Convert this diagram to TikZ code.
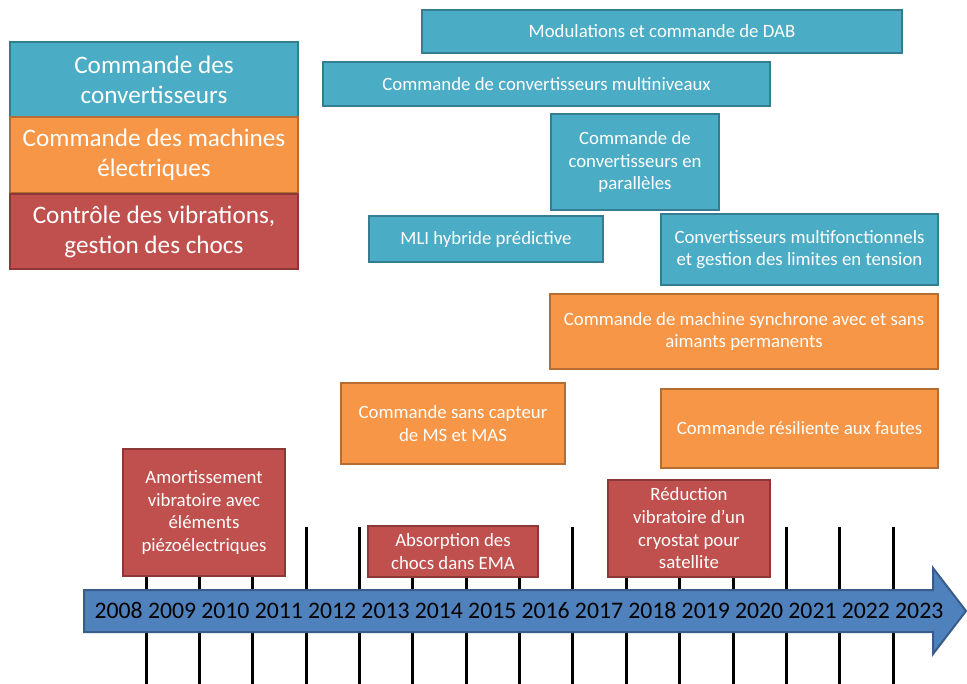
\documentclass[tikz,border=0pt]{standalone}
\usepackage{fontspec}
\setmainfont{Carlito}
\definecolor{cbl}{HTML}{4BACC6}
\definecolor{cblD}{HTML}{357D91}
\definecolor{cor}{HTML}{F79646}
\definecolor{corD}{HTML}{B66D31}
\definecolor{cre}{HTML}{C0504D}
\definecolor{creD}{HTML}{8C3836}
\definecolor{car}{HTML}{4F81BD}
\definecolor{carD}{HTML}{385D8A}
\tikzset{
  basebox/.style={rectangle, draw, line width=1.6pt, inner sep=0pt, align=center, text=white,
     font=\fontsize{14.1}{17}\selectfont},
  bluebox/.style={basebox, fill=cbl, draw=cblD},
  orbox/.style={basebox, fill=cor, draw=corD},
  redbox/.style={basebox, fill=cre, draw=creD},
  legbox/.style={font=\fontsize{18.9}{22.5}\selectfont, minimum width=216pt},
  tick/.style={line width=2.25pt, black},
  yearlbl/.style={font=\fontsize{17.8}{20}\selectfont, text=black, inner sep=0pt,
     text height=11.3pt, text depth=0pt}
}
\begin{document}
\begin{tikzpicture}[x=0.75pt, y=-0.75pt]
\useasboundingbox (0,0) rectangle (967,684);
% ticks
\foreach \k in {0,...,14} {
  \draw[tick] ({146+53.37*\k},527) -- ({146+53.37*\k},684);
}
% legend
\node[bluebox, legbox, minimum height=56.25pt] (leg1) at (154,79.5) {Commande des\\convertisseurs};
\node[orbox, legbox, minimum height=57pt] (leg2) at (154,155) {Commande des machines\\électriques};
\node[redbox, legbox, minimum height=56.25pt] (leg3) at (154,231.5) {Contrôle des vibrations,\\gestion des chocs};
% blue boxes
\node[bluebox, minimum width=360pt, minimum height=32.25pt] (dab) at (662,31.5) {Modulations et commande de DAB};
\node[bluebox, minimum width=335.25pt, minimum height=33pt] (multi) at (546.5,84) {Commande de convertisseurs multiniveaux};
\node[bluebox, minimum width=126pt, minimum height=72pt] (para) at (635,162) {Commande de\\convertisseurs en\\parallèles};
\node[bluebox, minimum width=175.5pt, minimum height=34.5pt] (mli) at (486,239) {MLI hybride prédictive};
\node[bluebox, minimum width=207.75pt, minimum height=53.25pt] (mfonc) at (799.5,249.5) {Convertisseurs multifonctionnels\\et gestion des limites en tension};
% orange boxes
\node[orbox, minimum width=291pt, minimum height=56.25pt] (sync) at (744,331.5) {Commande de machine synchrone avec et sans\\aimants permanents};
\node[orbox, minimum width=168pt, minimum height=60.75pt] (capt) at (453,423.5) {Commande sans capteur\\de MS et MAS};
\node[orbox, minimum width=207.75pt, minimum height=59.25pt] (resil) at (799.5,428.5) {Commande résiliente aux fautes};
% red boxes
\node[redbox, minimum width=121.5pt, minimum height=95.25pt] (amort) at (204,512.5) {Amortissement\\vibratoire avec\\éléments\\piézoélectriques};
\node[redbox, minimum width=127.5pt, minimum height=38.25pt] (absor) at (453,551.5) {Absorption des\\chocs dans EMA};
\node[redbox, minimum width=121.5pt, minimum height=72.75pt] (reduc) at (689,528.5) {Réduction\\vibratoire d’un\\cryostat pour\\satellite};
% arrow
\draw[fill=car, draw=carD, line width=1.5pt, line join=miter]
  (84,590) -- (933,590) -- (933,568) -- (966,611) -- (933,654) -- (933,632) -- (84,632) -- cycle;
\foreach \y [count=\i from 0] in {2008,...,2023} {
  \node[yearlbl] (y\y) at ({118.7+53.37*\i},611) {\y};
}
\end{tikzpicture}
\end{document}
